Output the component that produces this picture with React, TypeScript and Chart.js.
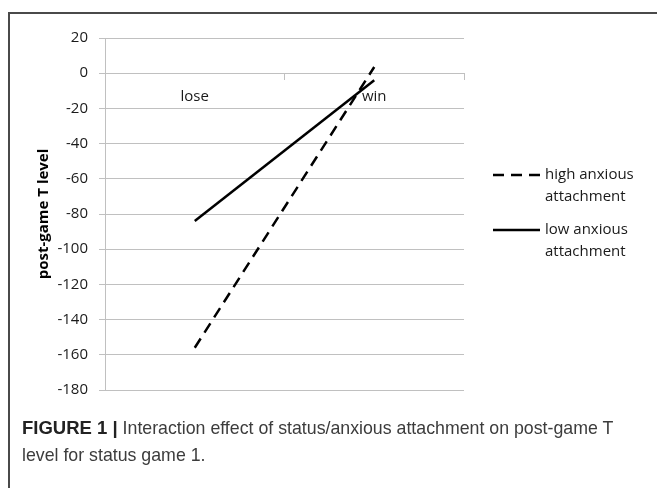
import React, { useEffect, useRef } from "react";
import { Chart, registerables } from "chart.js";

Chart.register(...registerables);

// ---- data ----
const categories = ["lose", "win"];
const highAnxious = [-156, 3.5];
const lowAnxious = [-84, -4];
const highLabel = ["high anxious", "attachment"];
const lowLabel = ["low anxious", "attachment"];
const yMin = -180;
const yMax = 20;
const yStep = 20;
const yTitle = "post-game T level";
const captionBold = "FIGURE 1 |";
const captionText =
  " Interaction effect of status/anxious attachment on post-game T level for status game 1.";

// ---- style ----
const FONT = "'Open Sans', 'Noto Sans', sans-serif";
const GRID = "#c0c0c0";
const TEXT = "#1a1a1a";

const legendPlugin = {
  id: "sideLegend",
  afterDraw(chart: any) {
    const ctx = chart.ctx;
    const x0 = chart.chartArea.right + 29;
    const sampleW = 47;
    const rows = [175, 230];
    const lineH = 22;
    ctx.save();
    chart.data.datasets.forEach((ds: any, i: number) => {
      const y = rows[i];
      ctx.beginPath();
      ctx.setLineDash(ds.borderDash || []);
      ctx.lineWidth = ds.borderWidth;
      ctx.strokeStyle = ds.borderColor;
      ctx.moveTo(x0, y);
      ctx.lineTo(x0 + sampleW, y);
      ctx.stroke();
      ctx.setLineDash([]);
      ctx.fillStyle = TEXT;
      ctx.font = `15px ${FONT}`;
      ctx.textBaseline = "middle";
      ctx.textAlign = "left";
      (ds.legendLines as string[]).forEach((t, j) => {
        ctx.fillText(t, x0 + sampleW + 5, y + j * lineH);
      });
    });
    ctx.restore();
  },
};

function ChartView() {
  const ref = useRef<HTMLCanvasElement | null>(null);
  useEffect(() => {
    if (!ref.current) return;
    const chart = new Chart(ref.current, {
      type: "line",
      data: {
        labels: categories,
        datasets: [
          {
            label: highLabel.join(" "),
            legendLines: highLabel,
            data: highAnxious,
            borderColor: "#000",
            borderWidth: 2.5,
            borderDash: [11, 7],
            pointRadius: 0,
            fill: false,
            tension: 0,
          } as any,
          {
            label: lowLabel.join(" "),
            legendLines: lowLabel,
            data: lowAnxious,
            borderColor: "#000",
            borderWidth: 2.5,
            pointRadius: 0,
            fill: false,
            tension: 0,
          } as any,
        ],
      },
      options: {
        animation: false,
        responsive: false,
        layout: { padding: { left: 0, top: 38, right: 193, bottom: 12 } },
        plugins: { legend: { display: false }, tooltip: { enabled: false } },
        scales: {
          x: {
            type: "category",
            offset: true,
            position: { y: 0 } as any,
            grid: {
              display: true,
              drawOnChartArea: false,
              drawTicks: true,
              tickLength: 6,
              color: GRID,
              offset: true,
            },
            border: { display: true, color: GRID },
            ticks: {
              font: { family: FONT, size: 15 },
              color: TEXT,
              padding: 9,
              maxRotation: 0,
            },
          },
          y: {
            min: yMin,
            max: yMax,
            ticks: {
              stepSize: yStep,
              padding: 11,
              font: { family: FONT, size: 15 },
              color: TEXT,
            },
            grid: { color: GRID, tickLength: 6 },
            border: { color: GRID },
            title: {
              display: true,
              text: yTitle,
              color: "#000",
              font: { family: FONT, size: 15, weight: "bold" },
              padding: { top: 35, bottom: 0 },
            },
            afterFit: (s: any) => {
              s.width = 105;
            },
          },
        },
      },
      plugins: [legendPlugin],
    });
    return () => chart.destroy();
  }, []);
  return (
    <canvas
      ref={ref}
      width={657}
      height={410}
      style={{ position: "absolute", left: 0, top: 0, width: 657, height: 410 }}
    />
  );
}

export default function App() {
  return (
    <div
      style={{
        position: "fixed",
        left: 0,
        top: 0,
        width: 657,
        height: 488,
        background: "#fff",
        overflow: "hidden",
      }}
    >
      <ChartView />
      <div
        style={{
          position: "absolute",
          left: 8,
          top: 12,
          width: 800,
          height: 800,
          border: "2px solid #4a4a4a",
          pointerEvents: "none",
        }}
      />
      <div
        style={{
          position: "absolute",
          left: 22,
          top: 414,
          width: 612,
          fontFamily: "'Liberation Sans', Arial, sans-serif",
          fontSize: 17.75,
          lineHeight: "27px",
          color: "#3c3c3c",
        }}
      >
        <span style={{ fontWeight: "bold", color: "#222", fontSize: 18.5 }}>{captionBold}</span>
        {captionText}
      </div>
    </div>
  );
}
